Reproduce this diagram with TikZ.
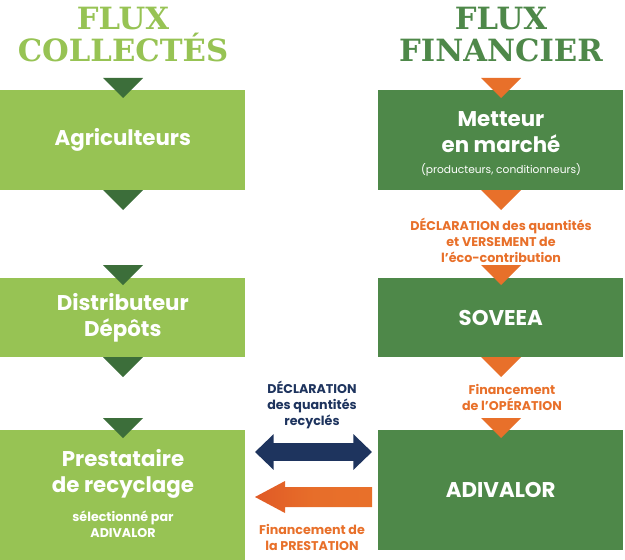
\documentclass[tikz,border=0pt]{standalone}
\usepackage{fontspec}
\setmainfont{Poppins}
\newfontfamily\slabfont{DejaVu Serif}
\usetikzlibrary{arrows.meta}
\definecolor{lightgreen}{HTML}{97C354}
\definecolor{darkgreen}{HTML}{4E8849}
\definecolor{deepgreen}{HTML}{3C6E3A}
\definecolor{orangeflux}{HTML}{E8702A}
\definecolor{redorange}{HTML}{E05A26}
\definecolor{navyflux}{HTML}{1E345E}
\tikzset{
  box/.style={minimum width=245*0.75pt, minimum height=#1, inner sep=0pt, text=white,
    font=\bfseries\fontsize{16}{19}\selectfont, align=center, anchor=north west},
  title/.style={font=\slabfont\bfseries\fontsize{23}{24}\selectfont, align=center},
  note/.style={font=\bfseries\fontsize{9.5}{12}\selectfont, align=center}
}
% triangle pointing down, centred at x, top at y
\newcommand{\downtri}[3]{\fill[#3] (#1-20,#2) -- (#1+20,#2) -- (#1,#2+20) -- cycle;}
\begin{document}
\begin{tikzpicture}[x=0.75pt,y=-0.75pt]
\useasboundingbox (0,0) rectangle (625,560);

\node[title,text=lightgreen] (ttlleft) at (123,35) {FLUX\\COLLECTÉS};
\node[title,text=darkgreen] (ttlright) at (501,35) {FLUX\\FINANCIER};

\node[box=100*0.75pt,fill=lightgreen] (agri) at (0,90) {Agriculteurs};
\node[box=79*0.75pt,fill=lightgreen] (distrib) at (0,278) {Distributeur\\Dépôts};
\node[box=130*0.75pt,fill=lightgreen] (presta) at (0,430) {};
\node[text=white,font=\bfseries\fontsize{16}{19}\selectfont,align=center] (prestatxt) at (123,474) {Prestataire\\de recyclage};
\node[text=white,font=\bfseries\fontsize{9.5}{12}\selectfont,align=center] (prestasub) at (123,524) {sélectionné par\\ADIVALOR};

\node[box=100*0.75pt,fill=darkgreen] (metteur) at (378,90) {};
\node[text=white,font=\bfseries\fontsize{16}{19}\selectfont,align=center] (metteurtxt) at (501,132) {Metteur\\en marché};
\node[text=white,font=\fontsize{8}{10}\selectfont] (metteursub) at (501,170) {(producteurs, conditionneurs)};
\node[box=79*0.75pt,fill=darkgreen] (soveea) at (378,278) {SOVEEA};
\node[box=120*0.75pt,fill=darkgreen] (adivalor) at (378,430) {ADIVALOR};

\foreach \y in {78,190,265,357,418} {
  \downtri{123}{\y}{deepgreen}
  \downtri{501}{\y}{orangeflux}
}

\node[note,text=orangeflux] (declfin) at (501,240) {DÉCLARATION des quantités\\et VERSEMENT de\\l’éco-contribution};
\node[note,text=orangeflux] (finop) at (512,397) {Financement\\de l’OPÉRATION};
\node[note,text=navyflux] (declrec) at (312,405) {DÉCLARATION\\des quantités\\recyclés};
\node[note,text=orangeflux] (finpresta) at (312,537) {Financement de\\la PRESTATION};

\coordinate (navyleft) at (255,452);
\coordinate (navyright) at (372,452);
\draw[navyflux,line width=14pt,{Triangle[length=14pt,width=26pt]}-{Triangle[length=14pt,width=26pt]}] (navyleft) -- (navyright);
\coordinate (orleft) at (255,497);
\coordinate (orright) at (372,497);
\shade[left color=redorange,right color=orangeflux,middle color=orangeflux!90!redorange]
  (372,487) -- (285,487) -- (285,481) -- (255,497) -- (285,513) -- (285,507) -- (372,507) -- cycle;
\end{tikzpicture}
\end{document}
